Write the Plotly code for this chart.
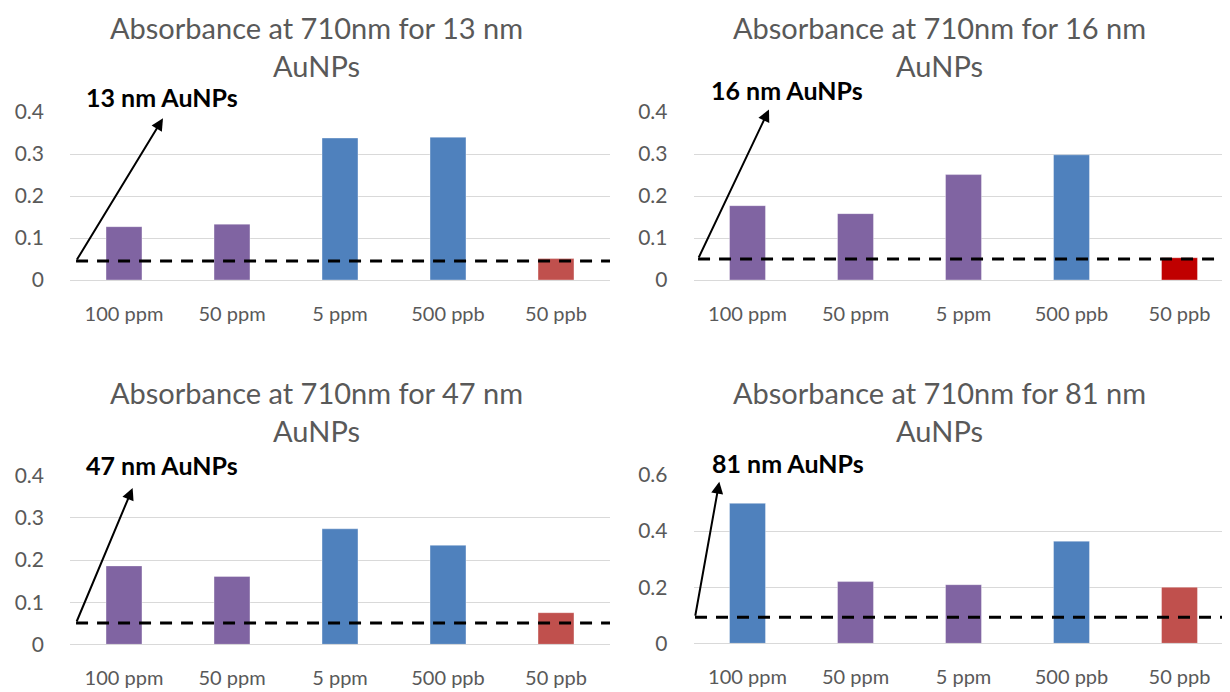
import plotly.graph_objects as go

OFF = 8  # page body margin offset in the browser
W, H = 1230 - OFF, 692 - OFF

categories = ["100 ppm", "50 ppm", "5 ppm", "500 ppb", "50 ppb"]

sizes = ["13 nm", "16 nm", "47 nm", "81 nm"]
values_13 = [0.127, 0.133, 0.338, 0.340, 0.051]
values_16 = [0.177, 0.158, 0.251, 0.298, 0.053]
values_47 = [0.186, 0.161, 0.274, 0.235, 0.075]
values_81 = [0.499, 0.220, 0.209, 0.364, 0.200]

PURPLE, BLUE, RED, DARKRED = "#8064A2", "#4F81BD", "#C0504D", "#C00000"
colors_13 = [PURPLE, PURPLE, BLUE, BLUE, RED]
colors_16 = [PURPLE, PURPLE, PURPLE, BLUE, DARKRED]
colors_47 = [PURPLE, PURPLE, BLUE, BLUE, RED]
colors_81 = [BLUE, PURPLE, PURPLE, BLUE, RED]

thresholds = [0.045, 0.050, 0.0505, 0.093]
arrow_tails = [(-0.444, 0.045), (-0.458, 0.050), (-0.444, 0.0505), (-0.486, 0.093)]
arrow_heads = [(0.361, 0.385), (0.199, 0.406), (0.080, 0.371), (-0.261, 0.576)]

y_max = [0.4, 0.4, 0.4, 0.6]
y_dtick = [0.1, 0.1, 0.1, 0.2]

all_values = [values_13, values_16, values_47, values_81]
all_colors = [colors_13, colors_16, colors_47, colors_81]

FONT = "Lato, Calibri, Carlito, sans-serif"
GRAY = "#595959"

def px(x):
    return (x - OFF) / W

def py(y):
    return 1 - (y - OFF) / H

# screen-pixel boxes: (left, right, top(ymax), bottom(0))
boxes = [
    (70, 610, 112, 280),
    (693.5, 1230, 112, 280),
    (70, 610, 475.7, 644.3),
    (693.5, 1230, 475, 643.3),
]
title_pos = [(316, 46), (940, 46), (316, 411), (940, 411)]
label_pos = [(162, 97), (787, 90), (162, 465), (788, 463)]

fig = go.Figure()
annotations = []
shapes = []
for i in range(4):
    xa = "x" if i == 0 else f"x{i+1}"
    ya = "y" if i == 0 else f"y{i+1}"
    l, r, t, b = boxes[i]
    xr_end = -0.5 + (r - l) / 108.0
    fig.add_trace(go.Bar(
        x=categories, y=all_values[i], xaxis=xa, yaxis=ya,
        marker=dict(color=all_colors[i], line=dict(color="rgba(255,255,255,0.35)", width=1)),
        width=0.333, showlegend=False,
    ))
    axkey = "xaxis" if i == 0 else f"xaxis{i+1}"
    aykey = "yaxis" if i == 0 else f"yaxis{i+1}"
    fig.update_layout(**{
        axkey: dict(domain=[px(l), min(px(r), 1)], range=[-0.5, xr_end], anchor=ya,
                    type="category", showgrid=False, showline=False, zeroline=False,
                    ticks="", ticklabelstandoff=20, automargin=False,
                    tickfont=dict(family=FONT, size=20, color=GRAY)),
        aykey: dict(domain=[py(b), py(t)], range=[0, y_max[i]], anchor=xa,
                    dtick=y_dtick[i], tick0=0, showgrid=True, gridcolor="#D9D9D9",
                    gridwidth=1, zeroline=True, zerolinecolor="#D9D9D9", zerolinewidth=1,
                    showline=False, ticks="", ticklabelstandoff=25, automargin=False,
                    tickfont=dict(family=FONT, size=21, color=GRAY)),
    })
    # dashed threshold line
    shapes.append(dict(type="line", xref=xa, yref=ya,
                       x0=arrow_tails[i][0], x1=xr_end, y0=thresholds[i], y1=thresholds[i],
                       line=dict(color="black", width=3, dash="12px,9px")))
    # arrow
    annotations.append(dict(xref=xa, yref=ya, axref=xa, ayref=ya,
                            x=arrow_heads[i][0], y=arrow_heads[i][1],
                            ax=arrow_tails[i][0], ay=arrow_tails[i][1],
                            text="", showarrow=True, arrowhead=2, arrowsize=1.2,
                            arrowwidth=2, arrowcolor="black", standoff=0, startstandoff=0))
    # label
    annotations.append(dict(xref="paper", yref="paper", x=px(label_pos[i][0]), y=py(label_pos[i][1]),
                            text=f"<b>{sizes[i]} AuNPs</b>", showarrow=False,
                            xanchor="center", yanchor="middle",
                            font=dict(family=FONT, size=25, color="black")))
    # title
    annotations.append(dict(xref="paper", yref="paper", x=px(title_pos[i][0]), y=py(title_pos[i][1]),
                            text=f"Absorbance at 710nm for {sizes[i]}<br>AuNPs", showarrow=False,
                            xanchor="center", yanchor="middle",
                            font=dict(family=FONT, size=29, color=GRAY)))

fig.update_layout(width=W, height=H, margin=dict(l=0, r=0, t=0, b=0, autoexpand=False),
                  paper_bgcolor="white", plot_bgcolor="white",
                  annotations=annotations, shapes=shapes, bargap=0.667)

fig.write_html("out.html")
